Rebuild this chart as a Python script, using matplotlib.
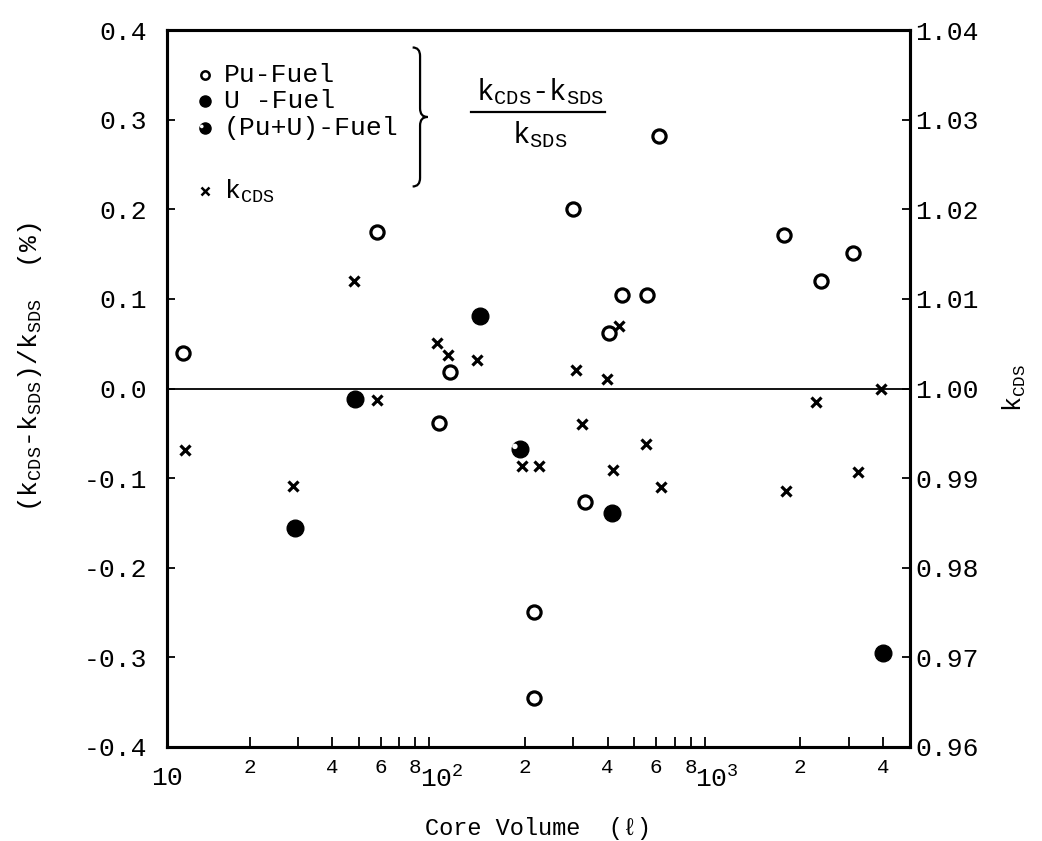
# plot.py
# CDS vs SDS eigenvalue difference against core volume
import matplotlib
matplotlib.use("Agg")
import matplotlib.pyplot as plt
import matplotlib.ticker as mticker
from matplotlib.path import Path
from matplotlib.patches import PathPatch
import numpy as np

plt.rcParams["font.family"] = ["Liberation Mono", "DejaVu Sans Mono"]
plt.rcParams["mathtext.fontset"] = "custom"
plt.rcParams["mathtext.rm"] = "Liberation Mono"
plt.rcParams["mathtext.it"] = "Liberation Mono"

# Pu-fuel cores: core volume (l), (kCDS-kSDS)/kSDS (%)
pu_vol = [11.5, 58, 97.8, 106.7, 216, 216, 298, 331, 405, 451, 556, 612, 1754, 2383, 3105]
pu_diff = [0.040, 0.175, -0.038, 0.018, -0.250, -0.345, 0.201, -0.127, 0.062, 0.104, 0.104, 0.282, 0.171, 0.120, 0.151]

# U-fuel cores
u_vol = [29.2, 48.5, 137, 414, 4000]
u_diff = [-0.156, -0.012, 0.081, -0.139, -0.295]

# (Pu+U)-fuel cores
mix_vol = [192]
mix_diff = [-0.067]

# k_CDS values (right axis)
k_vol = [11.7, 28.8, 48, 58.3, 95.6, 105, 134, 195, 226, 307, 322, 397, 418, 438,
         551, 626, 1782, 2291, 3236, 3936]
k_cds = [0.9931, 0.9891, 1.0120, 0.9987, 1.0051, 1.0037, 1.0032, 0.9913, 0.9913, 1.0021,
         0.9960, 1.0011, 0.9909, 1.0070, 0.99385, 0.9890, 0.9886, 0.9985, 0.9907, 1.0000]

fig = plt.figure(figsize=(10.42, 8.41), dpi=100)
ax = fig.add_axes([0.160, 0.112, 0.713, 0.852])
ax2 = ax.twinx()

ax.set_xscale("log")
ax.set_xlim(10, 5000)
ax.set_ylim(-0.4, 0.4)
ax2.set_ylim(0.96, 1.04)

ax.axhline(0.0, color="black", lw=1.3, zorder=1)

ax.plot(pu_vol, pu_diff, "o", ms=9.5, mfc="white", mec="black", mew=2.3, ls="none", zorder=3)
ax.plot(u_vol, u_diff, "o", ms=12, mfc="black", mec="black", ls="none", zorder=3)
ax.plot(mix_vol, mix_diff, "o", ms=12, mfc="black", mec="black", ls="none", zorder=3)
# small white notch on the mixed-fuel symbol
notch = Path.circle(center=(-0.45, 0.25), radius=0.22)
ax.plot(mix_vol, mix_diff, marker=notch, ms=12, mfc="white", mec="none", ls="none", zorder=4)
ax2.plot(k_vol, k_cds, "x", ms=7.5, mec="black", mew=2.3, ls="none", zorder=3)

# axes styling
for a in (ax, ax2):
    for s in a.spines.values():
        s.set_linewidth(2.2)
ax.tick_params(axis="both", which="both", direction="in", width=1.3)
ax.tick_params(axis="y", which="major", length=5.5, labelsize=19, pad=14)
ax.tick_params(axis="x", which="major", length=0, labelsize=19, pad=14)
ax.tick_params(axis="x", which="minor", length=7, labelsize=15, pad=8)
ax2.tick_params(axis="y", which="major", direction="in", length=5.5, width=1.3, labelsize=19, pad=4)

ax.set_yticks(np.arange(-0.4, 0.41, 0.1))
ax.yaxis.set_major_formatter(mticker.FuncFormatter(lambda v, p: "%.1f" % (0.0 if abs(v) < 1e-9 else v)))
ax2.set_yticks(np.arange(0.96, 1.041, 0.01))
ax2.yaxis.set_major_formatter(mticker.FormatStrFormatter("%.2f"))

ax.set_xticks([10, 100, 1000])
ax.set_xticklabels(["10", r"10$^2$", r"10$^3$"])
minor = [m * 10 ** d for d in (1, 2, 3) for m in range(2, 10) if m * 10 ** d < 5000]
ax.set_xticks(minor, minor=True)
ax.set_xticklabels([str(int(v / 10 ** int(np.log10(v)))) if int(v / 10 ** int(np.log10(v))) in (2, 4, 6, 8) else ""
                    for v in minor], minor=True)

ax.set_xlabel("Core Volume  (\u2113)", fontsize=17, labelpad=18)
ax.set_ylabel(r"(k$_{\mathrm{CDS}}$-k$_{\mathrm{SDS}}$)/k$_{\mathrm{SDS}}$  (%)", fontsize=19)
ax.yaxis.set_label_coords(-0.165, 0.53)
ax2.set_ylabel(r"k$_{\mathrm{CDS}}$", fontsize=18, labelpad=16)

# legend drawn as text block
leg_rows = ["Pu-Fuel", "U -Fuel", "(Pu+U)-Fuel", r"k$_{\mathrm{CDS}}$"]
leg_y = [0.938, 0.901, 0.864, 0.775]
mx = 0.051
ax.plot(mx, leg_y[0], "o", ms=6, mfc="white", mec="black", mew=1.8, transform=ax.transAxes, clip_on=False)
ax.plot(mx, leg_y[1], "o", ms=8, mfc="black", mec="black", transform=ax.transAxes, clip_on=False)
ax.plot(mx, leg_y[2], "o", ms=8, mfc="black", mec="black", transform=ax.transAxes, clip_on=False)
ax.plot(mx, leg_y[2], marker=notch, ms=8, mfc="white", mec="none", transform=ax.transAxes, clip_on=False)
ax.plot(mx, leg_y[3], "x", ms=6, mec="black", mew=1.8, transform=ax.transAxes, clip_on=False)
for t, y in zip(leg_rows, leg_y):
    ax.text(0.077, y, t, fontsize=19, transform=ax.transAxes, va="center", ha="left")

# curly brace grouping the three fuel rows
bx0, bx1, bx2 = 0.331, 0.341, 0.351
by_top, by_mid, by_bot = 0.976, 0.879, 0.782
verts = [(bx0, by_top), (bx1, by_top), (bx1, by_top - 0.012),
         (bx1, by_mid + 0.012),
         (bx1, by_mid), (bx2, by_mid),
         (bx1, by_mid), (bx1, by_mid - 0.012),
         (bx1, by_bot + 0.012),
         (bx1, by_bot), (bx0, by_bot)]
codes = [Path.MOVETO, Path.CURVE3, Path.CURVE3, Path.LINETO,
         Path.CURVE3, Path.CURVE3, Path.CURVE3, Path.CURVE3,
         Path.LINETO, Path.CURVE3, Path.CURVE3]
ax.add_patch(PathPatch(Path(verts, codes), fill=False, lw=1.6, color="black",
                       transform=ax.transAxes, clip_on=False))

ax.text(0.502, 0.893, r"k$_{\mathrm{CDS}}$-k$_{\mathrm{SDS}}$", fontsize=21,
        transform=ax.transAxes, ha="center", va="bottom")
ax.plot([0.41, 0.59], [0.886, 0.886], color="black", lw=1.6, transform=ax.transAxes)
ax.text(0.502, 0.876, r"k$_{\mathrm{SDS}}$", fontsize=21,
        transform=ax.transAxes, ha="center", va="top")

fig.savefig("out.png", dpi=100)
